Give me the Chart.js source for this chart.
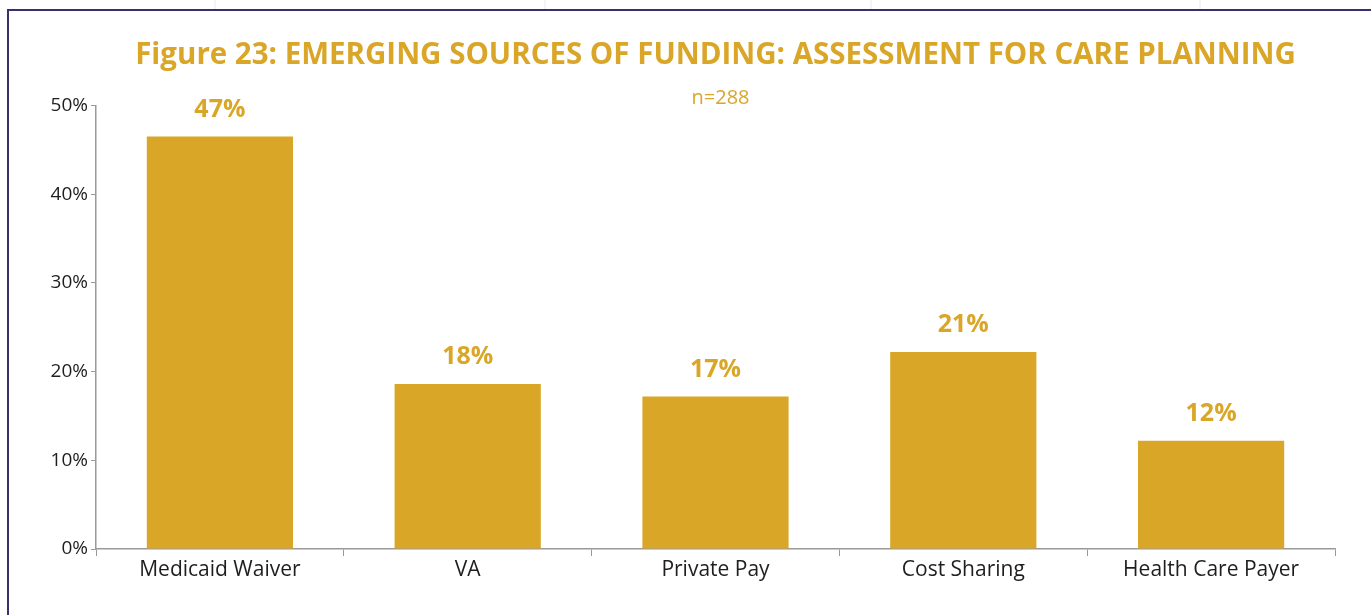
<!DOCTYPE html>
<html>
<head>
<meta charset="utf-8">
<script src="https://cdn.jsdelivr.net/npm/chart.js@4"></script>
<style>
  html, body { margin: 0; padding: 0; background: #fff; overflow: hidden; }
  #frame {
    position: absolute; left: 7px; top: 9px; width: 1362px; height: 620px;
    border-left: 2px solid #3b2d6e; border-top: 2px solid #3b2d6e; border-right: 1px solid #c9c6d6;
  }
  .faint { position: absolute; top: 0; width: 2px; height: 9px; background: #f2f6ef; }
  #chart { position: absolute; left: 0; top: 0; }
</style>
</head>
<body>
<div class="faint" style="left:214px"></div>
<div class="faint" style="left:544px"></div>
<div class="faint" style="left:870px"></div>
<div class="faint" style="left:1199px"></div>
<div id="frame"></div>
<canvas id="chart" width="1371" height="615"></canvas>
<script>
const categories = ['Medicaid Waiver', 'VA', 'Private Pay', 'Cost Sharing', 'Health Care Payer'];
const shares = [46.5, 18.6, 17.2, 22.2, 12.2];
const shareLabels = ['47%', '18%', '17%', '21%', '12%'];
const yTicks = [0, 10, 20, 30, 40, 50];
const sampleNote = 'n=288';

const gold = '#DAA628';
const fontName = "'Open Sans', 'Noto Sans', sans-serif";

// draws the value labels above each bar and the n= note under the title
const barLabels = {
    id: 'barLabels',
    afterDatasetsDraw(chart) {
        const ctx = chart.ctx;
        const meta = chart.getDatasetMeta(0);
        ctx.save();
        ctx.fillStyle = gold;
        ctx.textAlign = 'center';
        ctx.textBaseline = 'middle';
        ctx.font = 'bold 25px ' + fontName;
        meta.data.forEach(function (bar, i) {
            ctx.fillText(shareLabels[i], bar.x, bar.y - 27);
        });
        const area = chart.chartArea;
        ctx.font = '20px ' + fontName;
        ctx.fillText(sampleNote, (area.left + area.right) / 2 + 5, area.top - 7);
        ctx.restore();
    }
};

new Chart(document.getElementById('chart').getContext('2d'), {
    type: 'bar',
    data: {
        labels: categories,
        datasets: [{
            data: shares,
            backgroundColor: gold,
            barPercentage: 0.59,
            categoryPercentage: 1.0
        }]
    },
    options: {
        responsive: false,
        animation: false,
        layout: { padding: { left: 0, right: 36, top: 0, bottom: 0 } },
        scales: {
            x: {
                grid: { offset: true, drawOnChartArea: false, drawTicks: true, tickLength: 7, color: '#9a9a9a' },
                border: { color: '#9a9a9a', width: 1.5 },
                ticks: { color: '#1e1e1e', font: { family: fontName, size: 21 }, padding: 1 },
                afterFit(scale) { scale.height = 66; }
            },
            y: {
                min: 0,
                max: 50,
                afterBuildTicks(scale) { scale.ticks = yTicks.map(v => ({ value: v })); },
                grid: { drawOnChartArea: false, drawTicks: true, tickLength: 5, color: '#9a9a9a' },
                border: { color: '#9a9a9a', width: 1.5 },
                ticks: {
                    color: '#1e1e1e',
                    font: { family: fontName, size: 19 },
                    padding: 3,
                    callback: v => v + '%'
                },
                afterFit(scale) { scale.width = 96; }
            }
        },
        plugins: {
            legend: { display: false },
            tooltip: { enabled: false },
            title: {
                display: true,
                fullSize: false,
                text: 'Figure 23: EMERGING SOURCES OF FUNDING: ASSESSMENT FOR CARE PLANNING',
                color: gold,
                font: { family: fontName, size: 29.5, weight: 'bold' },
                padding: { top: 38, bottom: 32 }
            }
        }
    },
    plugins: [barLabels]
});
</script>
</body>
</html>
